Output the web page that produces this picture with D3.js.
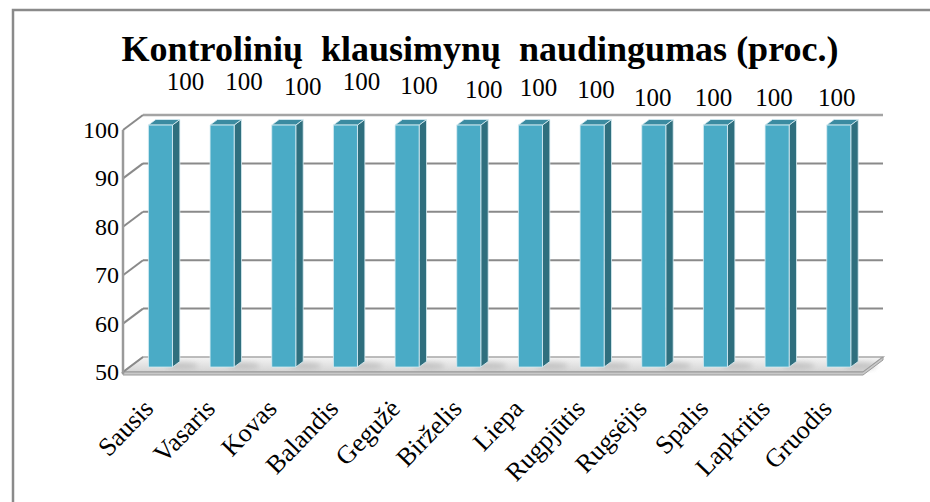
<!DOCTYPE html>
<html>
<head>
<meta charset="utf-8">
<script src="https://cdn.jsdelivr.net/npm/d3@7"></script>
<style>
html,body{margin:0;padding:0;background:#fff;}
svg{display:block;}
</style>
</head>
<body>
<svg id="chart" width="930" height="502" font-family="'Liberation Serif', 'DejaVu Serif', serif"></svg>
<script>
// ---- data ----
const categories = ["Sausis","Vasaris","Kovas","Balandis","Gegužė","Birželis","Liepa","Rugpjūtis","Rugsėjis","Spalis","Lapkritis","Gruodis"];
const values = [100,100,100,100,100,100,100,100,100,100,100,100];
const yTicks = [50,60,70,80,90,100];
const title = "Kontrolinių  klausimynų  naudingumas (proc.)";
// label nudges (layout only), relative to the bar top
const labelNudgeX = [25,22,19,16,12,15,8,4,-1,-2,-3,-2];
const labelNudgeY = [-35,-35,-30,-35,-31,-27,-29,-27,-19,-19,-19,-19];

// ---- layout ----
const svg = d3.select("#chart");
const FONT = "'Liberation Serif', 'DejaVu Serif', serif";
const depthX = 20, depthY = -15;           // full depth offset of the 3-D box
const off = d => [depthX*d, depthY*d];

const x = d3.scaleBand().domain(categories).range([123, 863]).paddingInner(0.61).paddingOuter(0.305);
const y = d3.scaleLinear().domain([50,100]).range([372,130]);

// frame
svg.append("rect").attr("x",13).attr("y",10).attr("width",940).attr("height",520)
  .attr("fill","#fff").attr("stroke","#8a8a8a").attr("stroke-width",2.5);

// title
svg.append("text").attr("x",480).attr("y",61).attr("text-anchor","middle")
  .attr("font-family",FONT).attr("font-size",36).attr("font-weight","bold")
  .attr("xml:space","preserve").style("white-space","pre").text(title);

const defs = svg.append("defs");
const fg = defs.append("linearGradient").attr("id","floorGrad").attr("x1",0).attr("y1",0).attr("x2",0).attr("y2",1);
fg.append("stop").attr("offset","0%").attr("stop-color","#f4f4f4");
fg.append("stop").attr("offset","100%").attr("stop-color","#d4d4d4");
const blur = defs.append("filter").attr("id","blur").attr("x","-50%").attr("y","-50%").attr("width","200%").attr("height","200%");
blur.append("feGaussianBlur").attr("stdDeviation",2.5);

const [bdx,bdy] = off(1);
const x0 = x.range()[0], x1 = x.range()[1];
const yb = v => y(v) + bdy;

// floor
const yF = y(50);
svg.append("path")
  .attr("d",`M${x0},${yF} L${x1},${yF} L${x1+bdx},${yF+bdy} L${x0+bdx},${yF+bdy} Z`)
  .attr("fill","url(#floorGrad)").attr("stroke","#a8a8a8").attr("stroke-width",1.5);
// floor shadows
svg.append("g").selectAll("ellipse").data(categories).join("ellipse")
  .attr("cx", c => x(c)+x.bandwidth()+16).attr("cy", yF-6)
  .attr("rx",16).attr("ry",3.5).attr("fill","#b8b8b8").attr("opacity",0.7).attr("filter","url(#blur)");
// floor slab front edge
svg.append("path")
  .attr("d",`M${x0},${yF} L${x1},${yF} L${x1+bdx},${yF+bdy} L${x1+bdx},${yF+bdy+3} L${x1},${yF+3} L${x0},${yF+3} Z`)
  .attr("fill","#c9c9c9").attr("stroke","#9a9a9a").attr("stroke-width",1);

// back-wall gridlines and side-wall diagonals
const grid = svg.append("g").attr("stroke","#8a8a8a").attr("stroke-width",2).attr("fill","none");
yTicks.filter(v => v>50).forEach(v => {
  grid.append("line").attr("x1",x0+bdx).attr("x2",x1+bdx).attr("y1",yb(v)).attr("y2",yb(v))
    .attr("stroke", v===100 ? "#a4a4a4" : "#8a8a8a").attr("stroke-width", v===100 ? 2.5 : 2);
});
yTicks.forEach(v => {
  grid.append("line").attr("x1",x0).attr("y1",y(v)).attr("x2",x0+bdx).attr("y2",yb(v));
});
// left front axis line
svg.append("line").attr("x1",x0).attr("x2",x0).attr("y1",y(100)).attr("y2",y(50)+2)
  .attr("stroke","#9a9a9a").attr("stroke-width",2.5);

// tick labels
svg.append("g").selectAll("text").data(yTicks).join("text")
  .attr("font-family",FONT)
  .attr("x",119).attr("y",v => y(v)+8).attr("text-anchor","end").attr("font-size",24)
  .text(d => d);

// bars
const dFront = 0.33, dBack = 0.7;
const [fx,fy] = off(dFront), [kx,ky] = off(dBack);
const bw = x.bandwidth();
const bars = svg.append("g");
categories.forEach((c,i) => {
  const v = values[i];
  const L = x(c)+fx, R = L+bw, T = y(v)+fy, B = y(50)+fy;
  const sdx = kx-fx, sdy = ky-fy;
  const g = bars.append("g").attr("stroke","#d9eef4").attr("stroke-width",0.8).attr("stroke-linejoin","round");
  g.append("path").attr("d",`M${R},${T} L${R+sdx},${T+sdy} L${R+sdx},${B+sdy} L${R},${B} Z`).attr("fill","#2f6f7e");
  g.append("path").attr("d",`M${L},${T} L${L+sdx},${T+sdy} L${R+sdx},${T+sdy} L${R},${T} Z`).attr("fill","#3b8ba1");
  g.append("rect").attr("x",L).attr("y",T).attr("width",bw).attr("height",B-T).attr("fill","#4aabc6");
});

// value labels
svg.append("g").selectAll("text").data(categories).join("text")
  .attr("font-family",FONT)
  .attr("x",(c,i) => x(c)+fx+bw/2+labelNudgeX[i])
  .attr("y",(c,i) => y(values[i])+fy+labelNudgeY[i])
  .attr("text-anchor","middle").attr("font-size",25)
  .text((c,i) => values[i]);

// category labels
svg.append("g").selectAll("text").data(categories).join("text")
  .attr("font-family",FONT)
  .attr("transform", c => `translate(${x(c)+bw/2+1},410) rotate(-46)`)
  .attr("text-anchor","end").attr("font-size",26)
  .text(c => c);
</script>
</body>
</html>
